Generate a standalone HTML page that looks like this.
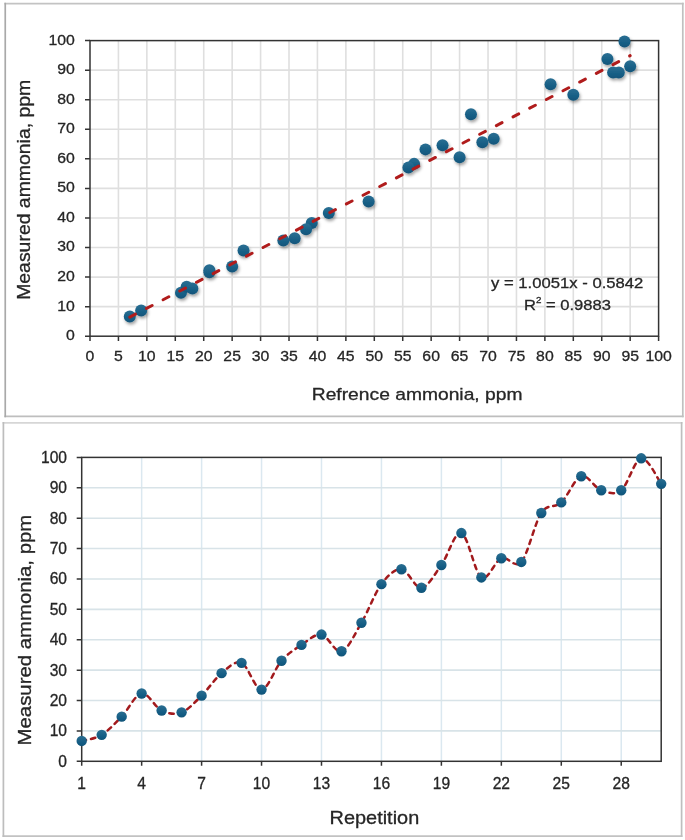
<!DOCTYPE html><html><head><meta charset="utf-8"><style>html,body{margin:0;padding:0;background:#fff;}svg{display:block}</style></head><body>
<svg width="685" height="840" viewBox="0 0 685 840">
<defs><filter id="sh" x="-50%" y="-50%" width="200%" height="200%"><feDropShadow dx="1.2" dy="2.2" stdDeviation="1.6" flood-color="#000" flood-opacity="0.36"/></filter><linearGradient id="mg" x1="0" y1="0" x2="0" y2="1"><stop offset="0" stop-color="#2b6f93"/><stop offset="0.75" stop-color="#125b82"/><stop offset="1" stop-color="#135578"/></linearGradient><linearGradient id="mg2" x1="0" y1="0" x2="0" y2="1"><stop offset="0" stop-color="#2a6e91"/><stop offset="0.75" stop-color="#115a82"/><stop offset="1" stop-color="#125477"/></linearGradient></defs>
<rect width="685" height="840" fill="#fff"/>
<g>
<line x1="5.25" y1="3.7" x2="682.8" y2="3.7" stroke="#c3c3c3" stroke-width="1.7" stroke-linecap="square"/>
<line x1="5.25" y1="416.3" x2="682.8" y2="416.3" stroke="#bebebe" stroke-width="1.7" stroke-linecap="square"/>
<line x1="5.25" y1="3.7" x2="5.25" y2="416.3" stroke="#a9a9a9" stroke-width="1.7" stroke-linecap="square"/>
<line x1="682.8" y1="3.7" x2="682.8" y2="416.3" stroke="#c0c0c0" stroke-width="1.7" stroke-linecap="square"/>
<line x1="3.4" y1="422.9" x2="681.6" y2="422.9" stroke="#d6d6d6" stroke-width="1.7" stroke-linecap="square"/>
<line x1="3.4" y1="836.1" x2="681.6" y2="836.1" stroke="#c2c2c2" stroke-width="1.7" stroke-linecap="square"/>
<line x1="3.4" y1="422.9" x2="3.4" y2="836.1" stroke="#bdbdbd" stroke-width="1.7" stroke-linecap="square"/>
<line x1="681.6" y1="422.9" x2="681.6" y2="836.1" stroke="#bebebe" stroke-width="1.7" stroke-linecap="square"/>
<path d="M118.43 40.60V336.20M146.86 40.60V336.20M175.29 40.60V336.20M203.72 40.60V336.20M232.15 40.60V336.20M260.58 40.60V336.20M289.01 40.60V336.20M317.44 40.60V336.20M345.87 40.60V336.20M374.30 40.60V336.20M402.73 40.60V336.20M431.16 40.60V336.20M459.59 40.60V336.20M488.02 40.60V336.20M516.45 40.60V336.20M544.88 40.60V336.20M573.31 40.60V336.20M601.74 40.60V336.20M630.17 40.60V336.20M90.00 306.64H658.60M90.00 277.08H658.60M90.00 247.52H658.60M90.00 217.96H658.60M90.00 188.40H658.60M90.00 158.84H658.60M90.00 129.28H658.60M90.00 99.72H658.60M90.00 70.16H658.60" stroke="#dfdfdf" stroke-width="1.6" fill="none"/>
<path d="M85.00 336.20H90.00M85.00 306.64H90.00M85.00 277.08H90.00M85.00 247.52H90.00M85.00 217.96H90.00M85.00 188.40H90.00M85.00 158.84H90.00M85.00 129.28H90.00M85.00 99.72H90.00M85.00 70.16H90.00M85.00 40.60H90.00M90.00 336.20V341.00M118.43 336.20V341.00M146.86 336.20V341.00M175.29 336.20V341.00M203.72 336.20V341.00M232.15 336.20V341.00M260.58 336.20V341.00M289.01 336.20V341.00M317.44 336.20V341.00M345.87 336.20V341.00M374.30 336.20V341.00M402.73 336.20V341.00M431.16 336.20V341.00M459.59 336.20V341.00M488.02 336.20V341.00M516.45 336.20V341.00M544.88 336.20V341.00M573.31 336.20V341.00M601.74 336.20V341.00M630.17 336.20V341.00M658.60 336.20V341.00" stroke="#333333" stroke-width="1.5" fill="none"/>
<rect x="90.00" y="40.60" width="568.60" height="295.60" fill="none" stroke="#333333" stroke-width="1.5"/>
<g font-family='"Liberation Sans", Arial, sans-serif' font-size="14" fill="#262626">
<text transform="translate(74.80 340.10) scale(1.0400 1)" text-anchor="end" font-family='"Liberation Sans", Arial, sans-serif' font-size="15.2" fill="#262626" stroke="#262626" stroke-width="0.3">0</text>
<text transform="translate(74.80 310.54) scale(1.0400 1)" text-anchor="end" font-family='"Liberation Sans", Arial, sans-serif' font-size="15.2" fill="#262626" stroke="#262626" stroke-width="0.3">10</text>
<text transform="translate(74.80 280.98) scale(1.0400 1)" text-anchor="end" font-family='"Liberation Sans", Arial, sans-serif' font-size="15.2" fill="#262626" stroke="#262626" stroke-width="0.3">20</text>
<text transform="translate(74.80 251.42) scale(1.0400 1)" text-anchor="end" font-family='"Liberation Sans", Arial, sans-serif' font-size="15.2" fill="#262626" stroke="#262626" stroke-width="0.3">30</text>
<text transform="translate(74.80 221.86) scale(1.0400 1)" text-anchor="end" font-family='"Liberation Sans", Arial, sans-serif' font-size="15.2" fill="#262626" stroke="#262626" stroke-width="0.3">40</text>
<text transform="translate(74.80 192.30) scale(1.0400 1)" text-anchor="end" font-family='"Liberation Sans", Arial, sans-serif' font-size="15.2" fill="#262626" stroke="#262626" stroke-width="0.3">50</text>
<text transform="translate(74.80 162.74) scale(1.0400 1)" text-anchor="end" font-family='"Liberation Sans", Arial, sans-serif' font-size="15.2" fill="#262626" stroke="#262626" stroke-width="0.3">60</text>
<text transform="translate(74.80 133.18) scale(1.0400 1)" text-anchor="end" font-family='"Liberation Sans", Arial, sans-serif' font-size="15.2" fill="#262626" stroke="#262626" stroke-width="0.3">70</text>
<text transform="translate(74.80 103.62) scale(1.0400 1)" text-anchor="end" font-family='"Liberation Sans", Arial, sans-serif' font-size="15.2" fill="#262626" stroke="#262626" stroke-width="0.3">80</text>
<text transform="translate(74.80 74.06) scale(1.0400 1)" text-anchor="end" font-family='"Liberation Sans", Arial, sans-serif' font-size="15.2" fill="#262626" stroke="#262626" stroke-width="0.3">90</text>
<text transform="translate(74.80 44.50) scale(1.0400 1)" text-anchor="end" font-family='"Liberation Sans", Arial, sans-serif' font-size="15.2" fill="#262626" stroke="#262626" stroke-width="0.3">100</text>
<text transform="translate(90.00 360.80) scale(1.0400 1)" text-anchor="middle" font-family='"Liberation Sans", Arial, sans-serif' font-size="15.2" fill="#262626" stroke="#262626" stroke-width="0.3">0</text>
<text transform="translate(118.43 360.80) scale(1.0400 1)" text-anchor="middle" font-family='"Liberation Sans", Arial, sans-serif' font-size="15.2" fill="#262626" stroke="#262626" stroke-width="0.3">5</text>
<text transform="translate(146.86 360.80) scale(1.0400 1)" text-anchor="middle" font-family='"Liberation Sans", Arial, sans-serif' font-size="15.2" fill="#262626" stroke="#262626" stroke-width="0.3">10</text>
<text transform="translate(175.29 360.80) scale(1.0400 1)" text-anchor="middle" font-family='"Liberation Sans", Arial, sans-serif' font-size="15.2" fill="#262626" stroke="#262626" stroke-width="0.3">15</text>
<text transform="translate(203.72 360.80) scale(1.0400 1)" text-anchor="middle" font-family='"Liberation Sans", Arial, sans-serif' font-size="15.2" fill="#262626" stroke="#262626" stroke-width="0.3">20</text>
<text transform="translate(232.15 360.80) scale(1.0400 1)" text-anchor="middle" font-family='"Liberation Sans", Arial, sans-serif' font-size="15.2" fill="#262626" stroke="#262626" stroke-width="0.3">25</text>
<text transform="translate(260.58 360.80) scale(1.0400 1)" text-anchor="middle" font-family='"Liberation Sans", Arial, sans-serif' font-size="15.2" fill="#262626" stroke="#262626" stroke-width="0.3">30</text>
<text transform="translate(289.01 360.80) scale(1.0400 1)" text-anchor="middle" font-family='"Liberation Sans", Arial, sans-serif' font-size="15.2" fill="#262626" stroke="#262626" stroke-width="0.3">35</text>
<text transform="translate(317.44 360.80) scale(1.0400 1)" text-anchor="middle" font-family='"Liberation Sans", Arial, sans-serif' font-size="15.2" fill="#262626" stroke="#262626" stroke-width="0.3">40</text>
<text transform="translate(345.87 360.80) scale(1.0400 1)" text-anchor="middle" font-family='"Liberation Sans", Arial, sans-serif' font-size="15.2" fill="#262626" stroke="#262626" stroke-width="0.3">45</text>
<text transform="translate(374.30 360.80) scale(1.0400 1)" text-anchor="middle" font-family='"Liberation Sans", Arial, sans-serif' font-size="15.2" fill="#262626" stroke="#262626" stroke-width="0.3">50</text>
<text transform="translate(402.73 360.80) scale(1.0400 1)" text-anchor="middle" font-family='"Liberation Sans", Arial, sans-serif' font-size="15.2" fill="#262626" stroke="#262626" stroke-width="0.3">55</text>
<text transform="translate(431.16 360.80) scale(1.0400 1)" text-anchor="middle" font-family='"Liberation Sans", Arial, sans-serif' font-size="15.2" fill="#262626" stroke="#262626" stroke-width="0.3">60</text>
<text transform="translate(459.59 360.80) scale(1.0400 1)" text-anchor="middle" font-family='"Liberation Sans", Arial, sans-serif' font-size="15.2" fill="#262626" stroke="#262626" stroke-width="0.3">65</text>
<text transform="translate(488.02 360.80) scale(1.0400 1)" text-anchor="middle" font-family='"Liberation Sans", Arial, sans-serif' font-size="15.2" fill="#262626" stroke="#262626" stroke-width="0.3">70</text>
<text transform="translate(516.45 360.80) scale(1.0400 1)" text-anchor="middle" font-family='"Liberation Sans", Arial, sans-serif' font-size="15.2" fill="#262626" stroke="#262626" stroke-width="0.3">75</text>
<text transform="translate(544.88 360.80) scale(1.0400 1)" text-anchor="middle" font-family='"Liberation Sans", Arial, sans-serif' font-size="15.2" fill="#262626" stroke="#262626" stroke-width="0.3">80</text>
<text transform="translate(573.31 360.80) scale(1.0400 1)" text-anchor="middle" font-family='"Liberation Sans", Arial, sans-serif' font-size="15.2" fill="#262626" stroke="#262626" stroke-width="0.3">85</text>
<text transform="translate(601.74 360.80) scale(1.0400 1)" text-anchor="middle" font-family='"Liberation Sans", Arial, sans-serif' font-size="15.2" fill="#262626" stroke="#262626" stroke-width="0.3">90</text>
<text transform="translate(630.17 360.80) scale(1.0400 1)" text-anchor="middle" font-family='"Liberation Sans", Arial, sans-serif' font-size="15.2" fill="#262626" stroke="#262626" stroke-width="0.3">95</text>
<text transform="translate(658.60 360.80) scale(1.0400 1)" text-anchor="middle" font-family='"Liberation Sans", Arial, sans-serif' font-size="15.2" fill="#262626" stroke="#262626" stroke-width="0.3">100</text>
</g>
<g filter="url(#sh)">
<circle cx="129.80" cy="316.39" r="6" fill="url(#mg)"/>
<circle cx="141.17" cy="310.48" r="6" fill="url(#mg)"/>
<circle cx="180.98" cy="292.75" r="6" fill="url(#mg)"/>
<circle cx="209.41" cy="270.28" r="6" fill="url(#mg)"/>
<circle cx="186.66" cy="286.83" r="6" fill="url(#mg)"/>
<circle cx="192.35" cy="288.61" r="6" fill="url(#mg)"/>
<circle cx="209.41" cy="272.35" r="6" fill="url(#mg)"/>
<circle cx="243.52" cy="250.48" r="6" fill="url(#mg)"/>
<circle cx="283.32" cy="240.43" r="6" fill="url(#mg)"/>
<circle cx="232.15" cy="266.44" r="6" fill="url(#mg)"/>
<circle cx="294.70" cy="238.36" r="6" fill="url(#mg)"/>
<circle cx="311.75" cy="222.99" r="6" fill="url(#mg)"/>
<circle cx="328.81" cy="212.93" r="6" fill="url(#mg)"/>
<circle cx="306.07" cy="229.19" r="6" fill="url(#mg)"/>
<circle cx="368.61" cy="201.41" r="6" fill="url(#mg)"/>
<circle cx="414.10" cy="163.87" r="6" fill="url(#mg)"/>
<circle cx="425.47" cy="149.38" r="6" fill="url(#mg)"/>
<circle cx="408.42" cy="167.41" r="6" fill="url(#mg)"/>
<circle cx="442.53" cy="145.24" r="6" fill="url(#mg)"/>
<circle cx="470.96" cy="114.20" r="6" fill="url(#mg)"/>
<circle cx="459.59" cy="157.36" r="6" fill="url(#mg)"/>
<circle cx="493.71" cy="138.74" r="6" fill="url(#mg)"/>
<circle cx="482.33" cy="142.29" r="6" fill="url(#mg)"/>
<circle cx="573.31" cy="94.69" r="6" fill="url(#mg)"/>
<circle cx="550.57" cy="84.35" r="6" fill="url(#mg)"/>
<circle cx="607.43" cy="58.93" r="6" fill="url(#mg)"/>
<circle cx="613.11" cy="72.52" r="6" fill="url(#mg)"/>
<circle cx="618.80" cy="72.52" r="6" fill="url(#mg)"/>
<circle cx="624.48" cy="41.49" r="6" fill="url(#mg)"/>
<circle cx="630.17" cy="66.32" r="6" fill="url(#mg)"/>
</g>
<path d="M129.80 317.13L630.17 55.67" stroke="#b01c1c" stroke-width="3" stroke-linecap="round" stroke-dasharray="6.4 12.4" fill="none"/>
<g font-family='"Liberation Sans", Arial, sans-serif' font-size="15" fill="#262626">
<text transform="translate(567.20 288.10) scale(1.0970 1)" text-anchor="middle" font-family='"Liberation Sans", Arial, sans-serif' font-size="15.2" fill="#262626" stroke="#262626" stroke-width="0.3">y = 1.0051x - 0.5842</text>
<text transform="translate(567.40 309.60) scale(1.0900 1)" text-anchor="middle" font-family='"Liberation Sans", Arial, sans-serif' font-size="15.2" fill="#262626" stroke="#262626" stroke-width="0.3">R<tspan font-size="9" dy="-6.5">2</tspan><tspan dy="6.5"> = 0.9883</tspan></text>
</g>
<text transform="translate(417.10 400.30) scale(1.1190 1)" text-anchor="middle" font-family='"Liberation Sans", Arial, sans-serif' font-size="17.2" fill="#262626" stroke="#262626" stroke-width="0.3">Refrence ammonia, ppm</text>
<text transform="translate(30.30 189.80) rotate(-90) scale(1.0500 1)" text-anchor="middle" font-family='"Liberation Sans", Arial, sans-serif' font-size="18.5" fill="#262626" stroke="#262626" stroke-width="0.3">Measured ammonia, ppm</text>
<path d="M141.65 457.40V761.30M201.60 457.40V761.30M261.54 457.40V761.30M321.49 457.40V761.30M381.44 457.40V761.30M441.39 457.40V761.30M501.34 457.40V761.30M561.29 457.40V761.30M621.23 457.40V761.30" stroke="#dbe8f0" stroke-width="1.5" fill="none"/>
<path d="M81.70 730.91H661.20M81.70 700.52H661.20M81.70 670.13H661.20M81.70 639.74H661.20M81.70 609.35H661.20M81.70 578.96H661.20M81.70 548.57H661.20M81.70 518.18H661.20M81.70 487.79H661.20" stroke="#d8e3e8" stroke-width="1.6" fill="none"/>
<path d="M76.70 761.30H81.70M76.70 730.91H81.70M76.70 700.52H81.70M76.70 670.13H81.70M76.70 639.74H81.70M76.70 609.35H81.70M76.70 578.96H81.70M76.70 548.57H81.70M76.70 518.18H81.70M76.70 487.79H81.70M76.70 457.40H81.70M81.70 761.30V765.80M141.65 761.30V765.80M201.60 761.30V765.80M261.54 761.30V765.80M321.49 761.30V765.80M381.44 761.30V765.80M441.39 761.30V765.80M501.34 761.30V765.80M561.29 761.30V765.80M621.23 761.30V765.80" stroke="#333333" stroke-width="1.5" fill="none"/>
<rect x="81.70" y="457.40" width="579.50" height="303.90" fill="none" stroke="#333333" stroke-width="1.5"/>
<g font-family='"Liberation Sans", Arial, sans-serif' font-size="14.5" fill="#262626">
<text transform="translate(67.00 766.80) scale(1.0000 1)" text-anchor="end" font-family='"Liberation Sans", Arial, sans-serif' font-size="15.6" fill="#262626" stroke="#262626" stroke-width="0.3">0</text>
<text transform="translate(67.00 736.41) scale(1.0000 1)" text-anchor="end" font-family='"Liberation Sans", Arial, sans-serif' font-size="15.6" fill="#262626" stroke="#262626" stroke-width="0.3">10</text>
<text transform="translate(67.00 706.02) scale(1.0000 1)" text-anchor="end" font-family='"Liberation Sans", Arial, sans-serif' font-size="15.6" fill="#262626" stroke="#262626" stroke-width="0.3">20</text>
<text transform="translate(67.00 675.63) scale(1.0000 1)" text-anchor="end" font-family='"Liberation Sans", Arial, sans-serif' font-size="15.6" fill="#262626" stroke="#262626" stroke-width="0.3">30</text>
<text transform="translate(67.00 645.24) scale(1.0000 1)" text-anchor="end" font-family='"Liberation Sans", Arial, sans-serif' font-size="15.6" fill="#262626" stroke="#262626" stroke-width="0.3">40</text>
<text transform="translate(67.00 614.85) scale(1.0000 1)" text-anchor="end" font-family='"Liberation Sans", Arial, sans-serif' font-size="15.6" fill="#262626" stroke="#262626" stroke-width="0.3">50</text>
<text transform="translate(67.00 584.46) scale(1.0000 1)" text-anchor="end" font-family='"Liberation Sans", Arial, sans-serif' font-size="15.6" fill="#262626" stroke="#262626" stroke-width="0.3">60</text>
<text transform="translate(67.00 554.07) scale(1.0000 1)" text-anchor="end" font-family='"Liberation Sans", Arial, sans-serif' font-size="15.6" fill="#262626" stroke="#262626" stroke-width="0.3">70</text>
<text transform="translate(67.00 523.68) scale(1.0000 1)" text-anchor="end" font-family='"Liberation Sans", Arial, sans-serif' font-size="15.6" fill="#262626" stroke="#262626" stroke-width="0.3">80</text>
<text transform="translate(67.00 493.29) scale(1.0000 1)" text-anchor="end" font-family='"Liberation Sans", Arial, sans-serif' font-size="15.6" fill="#262626" stroke="#262626" stroke-width="0.3">90</text>
<text transform="translate(67.00 462.90) scale(1.0000 1)" text-anchor="end" font-family='"Liberation Sans", Arial, sans-serif' font-size="15.6" fill="#262626" stroke="#262626" stroke-width="0.3">100</text>
<text transform="translate(81.70 788.80) scale(1.0000 1)" text-anchor="middle" font-family='"Liberation Sans", Arial, sans-serif' font-size="15.6" fill="#262626" stroke="#262626" stroke-width="0.3">1</text>
<text transform="translate(141.65 788.80) scale(1.0000 1)" text-anchor="middle" font-family='"Liberation Sans", Arial, sans-serif' font-size="15.6" fill="#262626" stroke="#262626" stroke-width="0.3">4</text>
<text transform="translate(201.60 788.80) scale(1.0000 1)" text-anchor="middle" font-family='"Liberation Sans", Arial, sans-serif' font-size="15.6" fill="#262626" stroke="#262626" stroke-width="0.3">7</text>
<text transform="translate(261.54 788.80) scale(1.0000 1)" text-anchor="middle" font-family='"Liberation Sans", Arial, sans-serif' font-size="15.6" fill="#262626" stroke="#262626" stroke-width="0.3">10</text>
<text transform="translate(321.49 788.80) scale(1.0000 1)" text-anchor="middle" font-family='"Liberation Sans", Arial, sans-serif' font-size="15.6" fill="#262626" stroke="#262626" stroke-width="0.3">13</text>
<text transform="translate(381.44 788.80) scale(1.0000 1)" text-anchor="middle" font-family='"Liberation Sans", Arial, sans-serif' font-size="15.6" fill="#262626" stroke="#262626" stroke-width="0.3">16</text>
<text transform="translate(441.39 788.80) scale(1.0000 1)" text-anchor="middle" font-family='"Liberation Sans", Arial, sans-serif' font-size="15.6" fill="#262626" stroke="#262626" stroke-width="0.3">19</text>
<text transform="translate(501.34 788.80) scale(1.0000 1)" text-anchor="middle" font-family='"Liberation Sans", Arial, sans-serif' font-size="15.6" fill="#262626" stroke="#262626" stroke-width="0.3">22</text>
<text transform="translate(561.29 788.80) scale(1.0000 1)" text-anchor="middle" font-family='"Liberation Sans", Arial, sans-serif' font-size="15.6" fill="#262626" stroke="#262626" stroke-width="0.3">25</text>
<text transform="translate(621.23 788.80) scale(1.0000 1)" text-anchor="middle" font-family='"Liberation Sans", Arial, sans-serif' font-size="15.6" fill="#262626" stroke="#262626" stroke-width="0.3">28</text>
</g>
<path d="M81.70 740.94C85.03 739.93 95.02 738.91 101.68 734.86C108.34 730.81 115.00 723.52 121.67 716.63C128.33 709.74 134.99 694.54 141.65 693.53C148.31 692.52 154.97 707.41 161.63 710.55C168.29 713.69 174.95 714.85 181.61 712.37C188.27 709.89 194.94 702.19 201.60 695.66C208.26 689.12 214.92 678.64 221.58 673.17C228.24 667.70 234.90 660.10 241.56 662.84C248.22 665.57 254.88 689.93 261.54 689.58C268.21 689.23 274.87 668.15 281.53 660.71C288.19 653.26 294.85 649.26 301.51 644.91C308.17 640.55 314.83 633.51 321.49 634.57C328.15 635.64 334.81 653.26 341.48 651.29C348.14 649.31 354.80 633.92 361.46 622.72C368.12 611.53 374.78 593.04 381.44 584.13C388.10 575.21 394.76 568.63 401.42 569.24C408.09 569.84 414.75 588.48 421.41 587.77C428.07 587.06 434.73 574.10 441.39 564.98C448.05 555.86 454.71 530.99 461.37 533.07C468.03 535.15 474.69 573.24 481.36 577.44C488.02 581.64 494.68 560.88 501.34 558.29C508.00 555.71 514.66 569.49 521.32 561.94C527.98 554.39 534.64 522.94 541.30 513.01C547.96 503.09 554.63 508.51 561.29 502.38C567.95 496.25 574.61 478.27 581.27 476.24C587.93 474.22 594.59 487.89 601.25 490.22C607.91 492.55 614.57 495.54 621.23 490.22C627.90 484.90 634.56 459.38 641.22 458.31C647.88 457.25 657.87 479.58 661.20 483.84" stroke="#a21a1d" stroke-width="2.5" stroke-linecap="round" stroke-dasharray="4.5 5" fill="none"/>
<circle cx="81.70" cy="740.94" r="5.2" fill="url(#mg2)"/>
<circle cx="101.68" cy="734.86" r="5.2" fill="url(#mg2)"/>
<circle cx="121.67" cy="716.63" r="5.2" fill="url(#mg2)"/>
<circle cx="141.65" cy="693.53" r="5.2" fill="url(#mg2)"/>
<circle cx="161.63" cy="710.55" r="5.2" fill="url(#mg2)"/>
<circle cx="181.61" cy="712.37" r="5.2" fill="url(#mg2)"/>
<circle cx="201.60" cy="695.66" r="5.2" fill="url(#mg2)"/>
<circle cx="221.58" cy="673.17" r="5.2" fill="url(#mg2)"/>
<circle cx="241.56" cy="662.84" r="5.2" fill="url(#mg2)"/>
<circle cx="261.54" cy="689.58" r="5.2" fill="url(#mg2)"/>
<circle cx="281.53" cy="660.71" r="5.2" fill="url(#mg2)"/>
<circle cx="301.51" cy="644.91" r="5.2" fill="url(#mg2)"/>
<circle cx="321.49" cy="634.57" r="5.2" fill="url(#mg2)"/>
<circle cx="341.48" cy="651.29" r="5.2" fill="url(#mg2)"/>
<circle cx="361.46" cy="622.72" r="5.2" fill="url(#mg2)"/>
<circle cx="381.44" cy="584.13" r="5.2" fill="url(#mg2)"/>
<circle cx="401.42" cy="569.24" r="5.2" fill="url(#mg2)"/>
<circle cx="421.41" cy="587.77" r="5.2" fill="url(#mg2)"/>
<circle cx="441.39" cy="564.98" r="5.2" fill="url(#mg2)"/>
<circle cx="461.37" cy="533.07" r="5.2" fill="url(#mg2)"/>
<circle cx="481.36" cy="577.44" r="5.2" fill="url(#mg2)"/>
<circle cx="501.34" cy="558.29" r="5.2" fill="url(#mg2)"/>
<circle cx="521.32" cy="561.94" r="5.2" fill="url(#mg2)"/>
<circle cx="541.30" cy="513.01" r="5.2" fill="url(#mg2)"/>
<circle cx="561.29" cy="502.38" r="5.2" fill="url(#mg2)"/>
<circle cx="581.27" cy="476.24" r="5.2" fill="url(#mg2)"/>
<circle cx="601.25" cy="490.22" r="5.2" fill="url(#mg2)"/>
<circle cx="621.23" cy="490.22" r="5.2" fill="url(#mg2)"/>
<circle cx="641.22" cy="458.31" r="5.2" fill="url(#mg2)"/>
<circle cx="661.20" cy="483.84" r="5.2" fill="url(#mg2)"/>
<text transform="translate(374.40 823.80) scale(1.1060 1)" text-anchor="middle" font-family='"Liberation Sans", Arial, sans-serif' font-size="18" fill="#262626" stroke="#262626" stroke-width="0.3">Repetition</text>
<text transform="translate(31.00 630.10) rotate(-90) scale(1.1000 1)" text-anchor="middle" font-family='"Liberation Sans", Arial, sans-serif' font-size="18.5" fill="#262626" stroke="#262626" stroke-width="0.3">Measured ammonia, ppm</text>
</g></svg></body></html>
